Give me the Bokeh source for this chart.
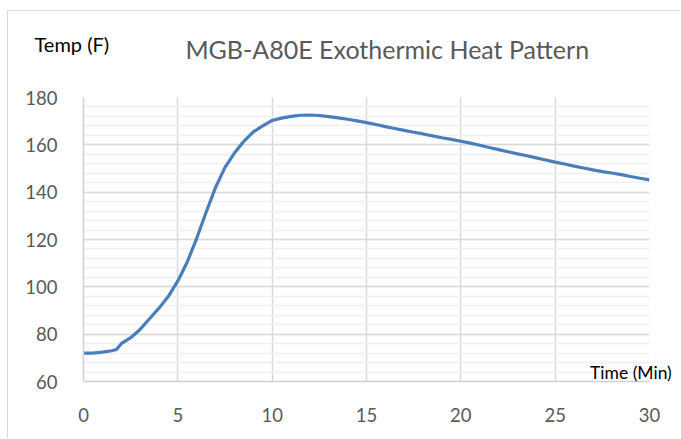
from bokeh.plotting import figure
from bokeh.models import Range1d, SingleIntervalTicker, Label
from bokeh.embed import file_html
from bokeh.resources import INLINE

time_min = [0, 0.5, 1.0, 1.5, 1.75, 2.0, 2.5, 3.0, 3.5, 4.0, 4.5, 5.0, 5.5, 6.0, 6.5,
            7.0, 7.5, 8.0, 8.5, 9.0, 9.5, 10.0, 10.5, 11.0, 11.5, 12.0, 12.5, 13.0,
            13.5, 14.0, 14.5, 15.0, 15.5, 16.0, 16.5, 17.0, 17.5, 18.0, 18.5, 19.0,
            19.5, 20.0, 20.5, 21.0, 21.5, 22.0, 22.5, 23.0, 23.5, 24.0, 24.5, 25.0,
            25.5, 26.0, 26.5, 27.0, 27.5, 28.0, 28.5, 29.0, 29.5, 30.0]
temp_f = [72.0, 72.0, 72.4, 73.0, 73.5, 76.0, 78.5, 82.0, 86.5, 91.0, 96.0, 102.5,
          110.5, 120.5, 131.5, 142.0, 150.5, 156.5, 161.5, 165.5, 168.0, 170.3, 171.3,
          172.0, 172.5, 172.6, 172.4, 171.9, 171.4, 170.8, 170.1, 169.4, 168.6, 167.7,
          166.9, 166.1, 165.3, 164.6, 163.8, 163.0, 162.3, 161.5, 160.7, 159.8, 158.9,
          158.0, 157.1, 156.2, 155.4, 154.5, 153.6, 152.7, 151.9, 151.0, 150.2, 149.4,
          148.7, 148.1, 147.4, 146.6, 145.9, 145.2]
x_ticks_interval = 5
y_ticks_interval = 20
title_text = "MGB-A80E Exothermic Heat Pattern"
y_label = "Temp (F)"
x_label = "Time (Min)"

FONT = "Lato"
p = figure(width=673, height=428, output_backend="svg", toolbar_location=None,
           x_range=Range1d(0, 30), y_range=Range1d(60, 180),
           min_border_left=75, min_border_right=32, min_border_top=86, min_border_bottom=58)
p.outline_line_color = None
p.styles = {"margin-left": "7px", "margin-top": "10px",
            "border-left": "1px solid #d9d9d9", "border-top": "1px solid #d9d9d9"}

p.xaxis.ticker = SingleIntervalTicker(interval=x_ticks_interval, num_minor_ticks=0)
p.yaxis.ticker = SingleIntervalTicker(interval=y_ticks_interval, num_minor_ticks=5)

for ax in (p.xaxis, p.yaxis):
    ax.major_tick_line_color = None
    ax.minor_tick_line_color = None
    ax.axis_line_color = "#d0d0d0"
    ax.axis_line_width = 1.5
    ax.major_label_text_font = FONT
    ax.major_label_text_font_size = "18.5px"
    ax.major_label_text_color = "#595959"
p.xaxis.major_label_standoff = 20
p.yaxis.major_label_standoff = 20

p.xgrid.grid_line_color = "#d9d9d9"
p.xgrid.grid_line_width = 1.5
p.ygrid.grid_line_color = "#d9d9d9"
p.ygrid.grid_line_width = 1.5
p.ygrid.minor_grid_line_color = "#f0f0f0"
p.ygrid.minor_grid_line_width = 1.5

p.line(time_min, temp_f, line_color="#4a7ebb", line_width=3.2)

p.add_layout(Label(x=16.1, y=200.3, text=title_text, text_align="center",
                   text_baseline="middle", text_font=FONT, text_font_size="25px",
                   text_color="#595959"), "above")
p.add_layout(Label(x=-2.6, y=202.8, text=y_label, text_align="left",
                   text_baseline="middle", text_font=FONT, text_font_size="20px",
                   text_color="#000000"), "above")
p.add_layout(Label(x=26.85, y=63.6, text=x_label, text_align="left",
                   text_baseline="middle", text_font=FONT, text_font_size="17.5px",
                   text_color="#000000"), "above")

open("out.html", "w").write(file_html(p, INLINE))
